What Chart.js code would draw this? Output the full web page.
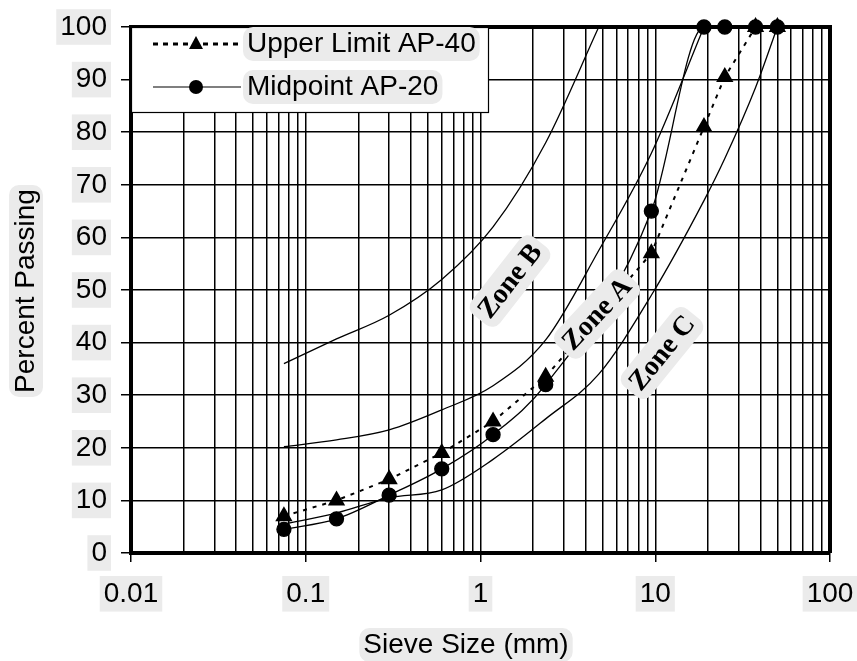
<!DOCTYPE html>
<html>
<head>
<meta charset="utf-8">
<script src="https://cdn.jsdelivr.net/npm/chart.js@4/dist/chart.umd.min.js"></script>
<style>
  html, body { margin: 0; padding: 0; background: #fff; }
  #wrap { width: 857px; height: 661px; }
</style>
</head>
<body>
<div id="wrap"><canvas id="myChart" width="857" height="661"></canvas></div>
<script>
// sieve sizes (mm)
var sievesAll = [0.075, 0.15, 0.3, 0.6, 1.18, 2.36, 4.75, 9.5, 19, 25, 37.5, 50];
var sievesGrad = [0.075, 0.15, 0.3, 0.6, 1.18, 2.36, 9.5, 19, 25, 37.5, 50];
var sievesZoneB = [0.075, 0.15, 0.3, 0.6, 1.18, 2.36, 4.75];
var sievesZoneA = [0.075, 0.15, 0.3, 0.6, 1.18, 2.36, 4.75, 9.5, 19];

// percent passing
var upperLimitAP40 = [7, 10, 14, 19, 25, 33.5, 57, 81, 90.5, 100, 100];
var midpointAP20 = [4.5, 6.5, 11, 16, 22.5, 32, 65, 100, 100, 100, 100];
var zoneBUpper = [36, 40.7, 45.2, 52, 62, 78, 100];
var zoneBLower = [20.2, 21.5, 23.4, 27.2, 31.8, 40.5, 57.5, 76, 100];
var zoneCLower = [5.5, 7.6, 10.5, 12, 17.8, 25.5, 34, 49, 67, 75, 88.5, 100];

var xDecades = [0.01, 0.1, 1, 10, 100];
var xTickLabels = ['0.01', '0.1', '1', '10', '100'];
var yTicks = [0, 10, 20, 30, 40, 50, 60, 70, 80, 90, 100];

var zoneLabels = [
  { text: 'Zone B', x: 510, y: 281, angle: -52 },
  { text: 'Zone A', x: 597, y: 314, angle: -47 },
  { text: 'Zone C', x: 662, y: 353, angle: -51 }
];

function pts(xs, ys) {
  return xs.map(function (x, i) { return { x: x, y: ys[i] }; });
}

// gridlines at 1..9 x each decade
var xGrid = [];
for (var d = 0; d < xDecades.length - 1; d++) {
  for (var m = 1; m < 10; m++) xGrid.push(+(xDecades[d] * m).toPrecision(3));
}
xGrid.push(100);

function isDecade(v) {
  return xDecades.some(function (d) { return Math.abs(d - v) < d * 1e-6; });
}

var FONT = '"Liberation Sans", Arial, sans-serif';
var HL = '#ebebeb';

function roundRect(ctx, x, y, w, h, r) {
  ctx.beginPath();
  ctx.moveTo(x + r, y);
  ctx.arcTo(x + w, y, x + w, y + h, r);
  ctx.arcTo(x + w, y + h, x, y + h, r);
  ctx.arcTo(x, y + h, x, y, r);
  ctx.arcTo(x, y, x + w, y, r);
  ctx.closePath();
}

function hlText(ctx, text, x, y, align) {
  var w = ctx.measureText(text).width;
  var left = align === 'center' ? x - w / 2 : x;
  ctx.fillStyle = HL;
  roundRect(ctx, left - 4, y - 17, w + 8, 34, 10);
  ctx.fill();
  ctx.fillStyle = '#000';
  ctx.textAlign = align;
  ctx.textBaseline = 'middle';
  ctx.fillText(text, x, y);
}

var extras = {
  id: 'extras',
  afterDraw: function (chart) {
    var ctx = chart.ctx;
    var a = chart.chartArea;
    ctx.save();
    // top and right frame
    ctx.strokeStyle = '#000';
    ctx.lineWidth = 4;
    ctx.beginPath();
    ctx.moveTo(a.left, a.top);
    ctx.lineTo(a.right, a.top);
    ctx.lineTo(a.right, a.bottom);
    ctx.stroke();

    // zone labels
    ctx.font = 'bold 28px "Liberation Serif", "Times New Roman", serif';
    zoneLabels.forEach(function (z) {
      ctx.save();
      ctx.translate(z.x, z.y);
      ctx.rotate(z.angle * Math.PI / 180);
      var w = ctx.measureText(z.text).width;
      ctx.fillStyle = HL;
      roundRect(ctx, -w / 2 - 6, -18, w + 12, 36, 10);
      ctx.fill();
      ctx.fillStyle = '#000';
      ctx.textAlign = 'center';
      ctx.textBaseline = 'middle';
      ctx.fillText(z.text, 0, 1);
      ctx.restore();
    });

    // legend
    var lx = a.left, ly = a.top, lw = 357, lh = 85;
    ctx.fillStyle = '#fff';
    ctx.fillRect(lx, ly, lw, lh);
    ctx.lineWidth = 1.2;
    ctx.strokeStyle = '#000';
    ctx.strokeRect(lx + 0.5, ly + 0.5, lw, lh);

    var y1 = ly + 17, y2 = ly + 60;
    ctx.lineWidth = 3;
    ctx.setLineDash([5, 5]);
    ctx.beginPath();
    ctx.moveTo(lx + 22, y1);
    ctx.lineTo(lx + 108, y1);
    ctx.stroke();
    ctx.setLineDash([]);
    ctx.fillStyle = '#000';
    ctx.beginPath();
    ctx.moveTo(lx + 65, y1 - 8);
    ctx.lineTo(lx + 72, y1 + 5);
    ctx.lineTo(lx + 58, y1 + 5);
    ctx.closePath();
    ctx.fill();

    ctx.lineWidth = 1.2;
    ctx.beginPath();
    ctx.moveTo(lx + 22, y2);
    ctx.lineTo(lx + 110, y2);
    ctx.stroke();
    ctx.beginPath();
    ctx.arc(lx + 65, y2, 7, 0, Math.PI * 2);
    ctx.fill();

    ctx.font = '28px ' + FONT;
    hlText(ctx, 'Upper Limit AP-40', lx + 116, y1, 'left');
    hlText(ctx, 'Midpoint AP-20', lx + 116, y2, 'left');

    // axis titles
    hlText(ctx, 'Sieve Size (mm)', 466, 645, 'center');
    ctx.save();
    ctx.translate(26, 291);
    ctx.rotate(-Math.PI / 2);
    hlText(ctx, 'Percent Passing', 0, 0, 'center');
    ctx.restore();
    ctx.restore();
  }
};

var ctx = document.getElementById('myChart').getContext('2d');
var myChart = new Chart(ctx, {
  type: 'line',
  data: {
    datasets: [{
      label: 'Zone B upper',
      data: pts(sievesZoneB, zoneBUpper),
      borderColor: '#000', borderWidth: 1.3, pointRadius: 0,
      cubicInterpolationMode: 'monotone', clip: false
    }, {
      label: 'Zone B lower',
      data: pts(sievesZoneA, zoneBLower),
      borderColor: '#000', borderWidth: 1.3, pointRadius: 0,
      cubicInterpolationMode: 'monotone', clip: false
    }, {
      label: 'Zone C lower',
      data: pts(sievesAll, zoneCLower),
      borderColor: '#000', borderWidth: 1.3, pointRadius: 0,
      cubicInterpolationMode: 'monotone', clip: false
    }, {
      label: 'Upper Limit AP-40',
      data: pts(sievesGrad, upperLimitAP40),
      borderColor: '#000', borderWidth: 2, borderDash: [4, 6],
      pointStyle: 'triangle', pointRadius: 8,
      pointBackgroundColor: '#000', pointBorderColor: '#000',
      clip: false
    }, {
      label: 'Midpoint AP-20',
      data: pts(sievesGrad, midpointAP20),
      borderColor: '#000', borderWidth: 1.3,
      pointStyle: 'circle', pointRadius: 7,
      pointBackgroundColor: '#000', pointBorderColor: '#000',
      cubicInterpolationMode: 'monotone', clip: false
    }]
  },
  options: {
    responsive: false,
    animation: false,
    layout: { padding: { left: 0, right: 27, top: 27, bottom: 0 } },
    plugins: { legend: { display: false }, tooltip: { enabled: false } },
    scales: {
      x: {
        type: 'logarithmic',
        min: 0.01,
        max: 100,
        afterBuildTicks: function (scale) {
          scale.ticks = xGrid.map(function (v) { return { value: v }; });
        },
        afterFit: function (scale) {
          scale.height = 108;
          scale.paddingLeft = 0;
          scale.paddingRight = 0;
        },
        border: { display: true, color: '#000', width: 4 },
        grid: {
          color: '#000', lineWidth: 1.5, tickLength: 9,
          tickColor: function (c) { return c.tick && isDecade(c.tick.value) ? '#000' : 'rgba(0,0,0,0)'; }
        },
        ticks: {
          autoSkip: false, maxRotation: 0, padding: 15,
          color: '#000', font: { family: FONT, size: 28 },
          showLabelBackdrop: function (c) { return !!(c.tick && isDecade(c.tick.value)); },
          backdropColor: HL, backdropPadding: { top: 1, bottom: 1, left: 4, right: 4 },
          callback: function (v) {
            var i = xDecades.findIndex(function (d) { return Math.abs(d - v) < d * 1e-6; });
            return i >= 0 ? xTickLabels[i] : '';
          }
        }
      },
      y: {
        min: 0,
        max: 100,
        afterBuildTicks: function (scale) {
          scale.ticks = yTicks.map(function (v) { return { value: v }; });
        },
        afterFit: function (scale) {
          scale.width = 131;
          scale.paddingTop = 0;
          scale.paddingBottom = 0;
        },
        border: { display: true, color: '#000', width: 4 },
        grid: { color: '#000', lineWidth: 1.5, tickLength: 10, tickColor: '#000' },
        ticks: {
          padding: 14, color: '#000', font: { family: FONT, size: 28 },
          showLabelBackdrop: true, backdropColor: HL,
          backdropPadding: { top: 1, bottom: 1, left: 4, right: 4 }
        }
      }
    }
  },
  plugins: [extras]
});
</script>
</body>
</html>
